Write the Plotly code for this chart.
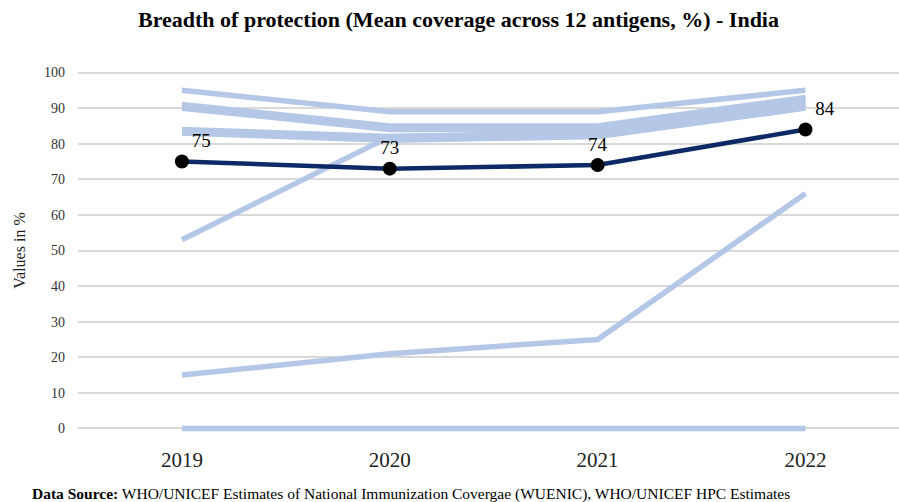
import plotly.graph_objects as go

years = ["2019", "2020", "2021", "2022"]

# Individual antigen coverage lines (light blue), values in %
antigen_a = [95, 89, 89, 95]
antigen_b = [91, 85, 85, 93]
antigen_c = [90, 84, 84, 92]
antigen_d = [84, 82, 83, 91]
antigen_e = [83, 81, 82, 90]
antigen_f = [53, 82, 83, 91]
antigen_g = [15, 21, 25, 66]
antigen_h = [0, 0, 0, 0]
antigens = [antigen_a, antigen_b, antigen_c, antigen_d,
            antigen_e, antigen_f, antigen_g, antigen_h]

mean_coverage = [75, 73, 74, 84]

y_ticks = list(range(0, 101, 10))

title_text = "Breadth of protection (Mean coverage across 12 antigens, %) - India"
y_title = "Values in %"
source_text = ("<b>Data Source:</b> WHO/UNICEF Estimates of National Immunization "
               "Covergae (WUENIC), WHO/UNICEF HPC Estimates")

SERIF = "Liberation Serif"

fig = go.Figure()

for vals in antigens:
    fig.add_trace(go.Scatter(
        x=years, y=vals, mode="lines",
        line=dict(color="#b4c7e7", width=5.5),
        hoverinfo="skip", showlegend=False,
    ))

fig.add_trace(go.Scatter(
    x=years, y=mean_coverage, mode="lines+markers+text",
    line=dict(color="#0d2a66", width=4.5),
    marker=dict(color="#000000", size=14),
    text=[str(v) for v in mean_coverage],
    textposition=["top right", "top center", "top center", "top right"],
    textfont=dict(family=SERIF, size=19, color="#000000"),
    showlegend=False, cliponaxis=False,
))

fig.update_layout(
    width=899, height=502,
    paper_bgcolor="white", plot_bgcolor="white",
    margin=dict(l=78, r=0, t=69, b=70),
    title=dict(text="<b>" + title_text + "</b>", x=0.51, xanchor="center",
               y=0.962, yanchor="middle",
               font=dict(family=SERIF, size=22, color="#000000")),
    xaxis=dict(
        type="category", range=[-0.5, 3.45],
        showgrid=False, zeroline=False, showline=False,
        ticks="", ticklabelstandoff=13,
        tickfont=dict(family=SERIF, size=21, color="#222222"),
    ),
    yaxis=dict(
        range=[-1, 101], tickvals=y_ticks,
        showgrid=True, gridcolor="#d9d9d9", gridwidth=1.5,
        zeroline=False, showline=False, ticks="",
        ticklabelstandoff=12,
        tickfont=dict(family=SERIF, size=14, color="#333333"),
        title=dict(text=y_title, standoff=14,
                   font=dict(family=SERIF, size=16, color="#222222")),
    ),
    annotations=[dict(
        text=source_text, xref="paper", yref="paper",
        x=-0.058, y=0, xanchor="left", yanchor="middle",
        yshift=-62, showarrow=False,
        font=dict(family=SERIF, size=15.5, color="#000000"),
    )],
)

fig.write_html("out.html")
